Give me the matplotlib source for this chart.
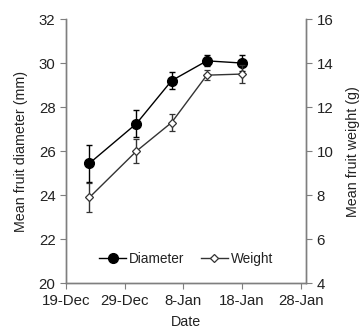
import matplotlib
matplotlib.use("Agg")
import matplotlib.pyplot as plt
import numpy as np
import datetime as dt
from matplotlib.lines import Line2D

plt.rcParams['font.family'] = ['Liberation Sans', 'DejaVu Sans']

dates = ["2012-12-23", "2012-12-31", "2013-01-06", "2013-01-12", "2013-01-18"]
diameter = [25.45, 27.25, 29.2, 30.1, 30.0]
diameter_err = [0.85, 0.6, 0.4, 0.25, 0.35]
weight = [7.9, 10.0, 11.3, 13.45, 13.5]
weight_err = [0.65, 0.55, 0.4, 0.22, 0.42]
xtick_dates = ["2012-12-19", "2012-12-29", "2013-01-08", "2013-01-18", "2013-01-28"]
xtick_labels = ["19-Dec", "29-Dec", "8-Jan", "18-Jan", "28-Jan"]

x = [dt.datetime.strptime(d, "%Y-%m-%d") for d in dates]
xt = [dt.datetime.strptime(d, "%Y-%m-%d") for d in xtick_dates]

grey = "#7f7f7f"
txt = "#222222"

fig = plt.figure(figsize=(3.6, 3.29), dpi=100)
ax = fig.add_axes([66/360, 1-283.3/329, (306-66)/360, (283.3-19)/329])
ax2 = ax.twinx()

ax.errorbar(x, diameter, yerr=diameter_err, color="black", marker="o", markersize=7,
            linewidth=1.0, elinewidth=1.0, capsize=2.5, capthick=1.0, zorder=3)
ax2.errorbar(x, weight, yerr=weight_err, color="#333333", marker="D", markersize=4.5,
             markerfacecolor="white", markeredgecolor="#333333", markeredgewidth=0.9,
             linewidth=1.0, elinewidth=1.0, capsize=2.5, capthick=1.0, zorder=3)

ax.set_ylim(20, 32)
ax.set_yticks(np.arange(20, 33, 2))
ax2.set_ylim(4, 16)
ax2.set_yticks(np.arange(4, 17, 2))
ax.set_xlim(xt[0], xt[-1] + dt.timedelta(days=0.9))
ax.set_xticks(xt)
ax.set_xticklabels(xtick_labels)

for a in (ax, ax2):
    a.spines['top'].set_visible(False)
    for s in ('left', 'right', 'bottom'):
        a.spines[s].set_color(grey)
        a.spines[s].set_linewidth(1.0)
    a.tick_params(colors=grey, labelcolor=txt, labelsize=10.8, length=4, width=0.8, pad=3.5)

ax.set_ylabel("Mean fruit diameter (mm)", fontsize=10.3, color=txt, labelpad=8)
ax2.set_ylabel("Mean fruit weight (g)", fontsize=10.3, color=txt, labelpad=9)
ax.set_xlabel("Date", fontsize=10.3, color=txt, labelpad=5)

h1 = Line2D([], [], color="black", marker="o", markersize=7, linewidth=1.0)
h2 = Line2D([], [], color="#333333", marker="D", markersize=4.5, markerfacecolor="white",
            markeredgecolor="#333333", markeredgewidth=0.9, linewidth=1.0)
leg = ax.legend([h1, h2], ["Diameter", "Weight"], ncol=2, frameon=False, loc="lower center",
                bbox_to_anchor=(0.5, 0.02), fontsize=9.8, handlelength=2.0, handletextpad=0.2,
                columnspacing=1.2)
for t in leg.get_texts():
    t.set_color(txt)

fig.savefig("out.png", dpi=100)
